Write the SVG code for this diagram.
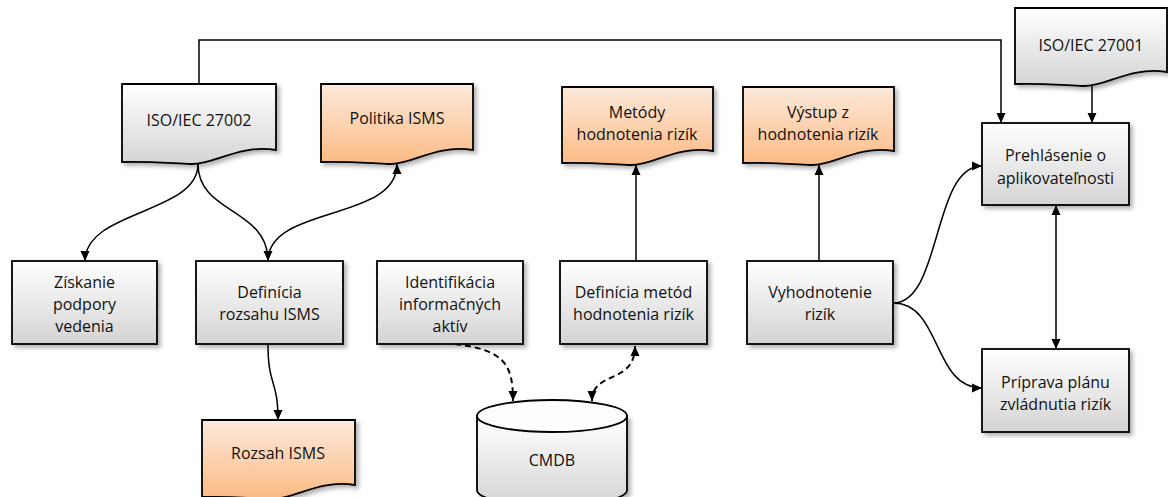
<svg xmlns="http://www.w3.org/2000/svg" width="1168" height="497" viewBox="0 0 1168 497">
  <defs>
    <linearGradient id="gGray" x1="0" y1="0" x2="0" y2="1">
      <stop offset="0" stop-color="#ffffff"/>
      <stop offset="1" stop-color="#d4d4d4"/>
    </linearGradient>
    <linearGradient id="gOrange" x1="0" y1="0" x2="0" y2="1">
      <stop offset="0" stop-color="#fdeadb"/>
      <stop offset="1" stop-color="#fbba84"/>
    </linearGradient>
    <filter id="shadow" x="-10%" y="-10%" width="125%" height="130%">
      <feDropShadow dx="3" dy="3" stdDeviation="2" flood-color="#000" flood-opacity="0.3"/>
    </filter>
    <marker id="arrow" viewBox="0 0 10 10" refX="10" refY="5" markerWidth="10" markerHeight="10" markerUnits="userSpaceOnUse" orient="auto-start-reverse">
      <path d="M0,0.5 L10,5 L0,9.5 z" fill="#000"/>
    </marker>
  </defs>
  <style>
    .box { fill: url(#gGray); stroke: #000; stroke-width: 1.8; filter: url(#shadow); }
    .doc { fill: url(#gGray); stroke: #000; stroke-width: 1.8; filter: url(#shadow); }
    .odoc { fill: url(#gOrange); stroke: #000; stroke-width: 1.8; filter: url(#shadow); }
    .lbl { font-family: "Open Sans", "Noto Sans", "Liberation Sans", sans-serif; font-size: 16px; fill: #111; text-anchor: middle; }
    .conn { fill: none; stroke: #000; stroke-width: 1.5; }
    .dash { fill: none; stroke: #000; stroke-width: 2; stroke-dasharray: 6 4; }
  </style>

  <!-- connectors -->
  <g id="connectors">
    <path class="conn" d="M199,84 V40 H1001 V123" marker-end="url(#arrow)"/>
    <path class="conn" d="M198,164 C198,214 85,210 85,261" marker-end="url(#arrow)"/>
    <path class="conn" d="M198,164 C198,214 268,208 268,261" marker-end="url(#arrow)"/>
    <path class="conn" d="M268,261 C268,205 397,222 397,164" marker-end="url(#arrow)"/>
    <path class="conn" d="M268,344 C268,388 278,378 278,420" marker-end="url(#arrow)"/>
    <path class="conn" d="M636,261 V165" marker-end="url(#arrow)"/>
    <path class="conn" d="M819,261 V165" marker-end="url(#arrow)"/>
    <path class="conn" d="M893,303 C942,303 932,166 982,166" marker-end="url(#arrow)"/>
    <path class="conn" d="M893,303 C942,303 932,388 982,388" marker-end="url(#arrow)"/>
    <path class="conn" d="M1056,205 V349" marker-start="url(#arrow)" marker-end="url(#arrow)"/>
    <path class="conn" d="M1092,85 V123" marker-end="url(#arrow)"/>
    <path class="dash" d="M455,344 C505,350 513,365 513,401" marker-end="url(#arrow)"/>
    <path class="dash" d="M592,401 C592,370 635,385 635,346" marker-start="url(#arrow)" marker-end="url(#arrow)"/>
  </g>

  <!-- documents -->
  <g id="iso27002">
    <path class="doc" d="M122,84 H276 V150 C238,144 214,165 191,164 C168,163 145,161 122,162 Z"/>
    <text class="lbl" x="199" y="126">ISO/IEC 27002</text>
  </g>
  <g id="politika">
    <path class="odoc" d="M321,84 H473 V150 C435,144 412,165 389,164 C367,163 344,161 321,162 Z"/>
    <text class="lbl" x="397" y="124">Politika ISMS</text>
  </g>
  <g id="metody">
    <path class="odoc" d="M562,87 H713 V151 C675,145 653,166 630,165 C607,164 585,162 562,163 Z"/>
    <text class="lbl" x="637" y="118">Metódy</text>
    <text class="lbl" x="637" y="140">hodnotenia rizík</text>
  </g>
  <g id="vystup">
    <path class="odoc" d="M743,87 H894 V151 C856,145 834,166 811,165 C788,164 766,162 743,163 Z"/>
    <text class="lbl" x="818" y="118">Výstup z</text>
    <text class="lbl" x="818" y="140">hodnotenia rizík</text>
  </g>
  <g id="iso27001">
    <path class="doc" d="M1015,8 H1167 V72 C1129,66 1106,87 1083,86 C1061,85 1038,83 1015,84 Z"/>
    <text class="lbl" x="1091" y="51">ISO/IEC 27001</text>
  </g>
  <g id="rozsah">
    <path class="odoc" d="M202,420 H355 V485 C317,479 294,500 271,499 C248,498 225,496 202,497 Z"/>
    <text class="lbl" x="278" y="459">Rozsah ISMS</text>
  </g>

  <!-- process boxes -->
  <g id="ziskanie">
    <rect class="box" x="12" y="261" width="145" height="83"/>
    <text class="lbl" x="84.5" y="288">Získanie</text>
    <text class="lbl" x="84.5" y="310">podpory</text>
    <text class="lbl" x="84.5" y="332">vedenia</text>
  </g>
  <g id="definicia-rozsahu">
    <rect class="box" x="196" y="261" width="147" height="83"/>
    <text class="lbl" x="269.5" y="298">Definícia</text>
    <text class="lbl" x="269.5" y="320">rozsahu ISMS</text>
  </g>
  <g id="identifikacia">
    <rect class="box" x="377" y="261" width="146" height="83"/>
    <text class="lbl" x="450" y="288">Identifikácia</text>
    <text class="lbl" x="450" y="310">informačných</text>
    <text class="lbl" x="450" y="332">aktív</text>
  </g>
  <g id="definicia-metod">
    <rect class="box" x="560" y="261" width="147" height="83"/>
    <text class="lbl" x="633.5" y="298">Definícia metód</text>
    <text class="lbl" x="633.5" y="320">hodnotenia rizík</text>
  </g>
  <g id="vyhodnotenie">
    <rect class="box" x="747" y="261" width="146" height="83"/>
    <text class="lbl" x="820" y="298">Vyhodnotenie</text>
    <text class="lbl" x="820" y="320">rizík</text>
  </g>
  <g id="prehlasenie">
    <rect class="box" x="982" y="123" width="147" height="82"/>
    <text class="lbl" x="1055.5" y="161">Prehlásenie o</text>
    <text class="lbl" x="1055.5" y="184">aplikovateľnosti</text>
  </g>
  <g id="priprava">
    <rect class="box" x="982" y="349" width="147" height="83"/>
    <text class="lbl" x="1055.5" y="388">Príprava plánu</text>
    <text class="lbl" x="1055.5" y="410">zvládnutia rizík</text>
  </g>

  <!-- database -->
  <g id="cmdb">
    <path class="box" d="M477,416 V490 A75,16 0 0 0 627,490 V416 Z"/>
    <ellipse cx="552" cy="416" rx="75" ry="16" fill="#fdfdfd" stroke="#000" stroke-width="1.8"/>
    <text class="lbl" x="552" y="466">CMDB</text>
  </g>
</svg>
